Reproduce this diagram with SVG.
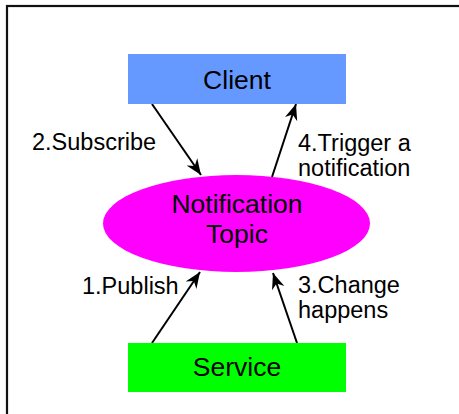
<svg xmlns="http://www.w3.org/2000/svg" width="459" height="414" viewBox="0 0 459 414">
<defs>
<style>
.node-text{font-family:"Liberation Sans",Arial,sans-serif;font-size:26.5px;fill:#000;text-anchor:middle}
.label{font-family:"Liberation Sans",Arial,sans-serif;font-size:23.5px;fill:#000}
.conn{stroke:#000;stroke-width:2;fill:none;marker-end:url(#arrow)}
</style>
<marker id="arrow" markerUnits="userSpaceOnUse" viewBox="-16 -7 17 14" refX="0" refY="0" markerWidth="17" markerHeight="14" orient="auto">
<path d="M0,0 L-16,-6.5 L-11,0 L-16,6.5 Z" fill="#000"/>
</marker>
</defs>
<rect x="0" y="0" width="459" height="414" fill="#fff"/>
<rect x="7" y="6" width="470" height="430" fill="none" stroke="#111" stroke-width="2.2"/>
<g id="connectors">
<line class="conn" x1="152" y1="104" x2="201" y2="175"/>
<line class="conn" x1="272" y1="177" x2="296" y2="104"/>
<line class="conn" x1="152" y1="343" x2="200" y2="272"/>
<line class="conn" x1="297" y1="343" x2="273" y2="273"/>
</g>
<g id="client">
<rect x="128" y="54" width="218" height="50" fill="#6699ff"/>
<text class="node-text" x="237" y="89">Client</text>
</g>
<g id="topic">
<ellipse cx="236.5" cy="223.5" rx="133.5" ry="48.5" fill="#ff00ff"/>
<text class="node-text" x="237" y="213">Notification</text>
<text class="node-text" x="237" y="243">Topic</text>
</g>
<g id="service">
<rect x="128" y="343" width="218" height="49" fill="#00ff00"/>
<text class="node-text" x="237" y="376">Service</text>
</g>
<g id="labels">
<text class="label" x="32" y="150">2.Subscribe</text>
<text class="label" x="298" y="150.5">4.Trigger a</text>
<text class="label" x="298" y="175.5">notification</text>
<text class="label" x="82" y="294">1.Publish</text>
<text class="label" x="298" y="293">3.Change</text>
<text class="label" x="298" y="318">happens</text>
</g>
</svg>
